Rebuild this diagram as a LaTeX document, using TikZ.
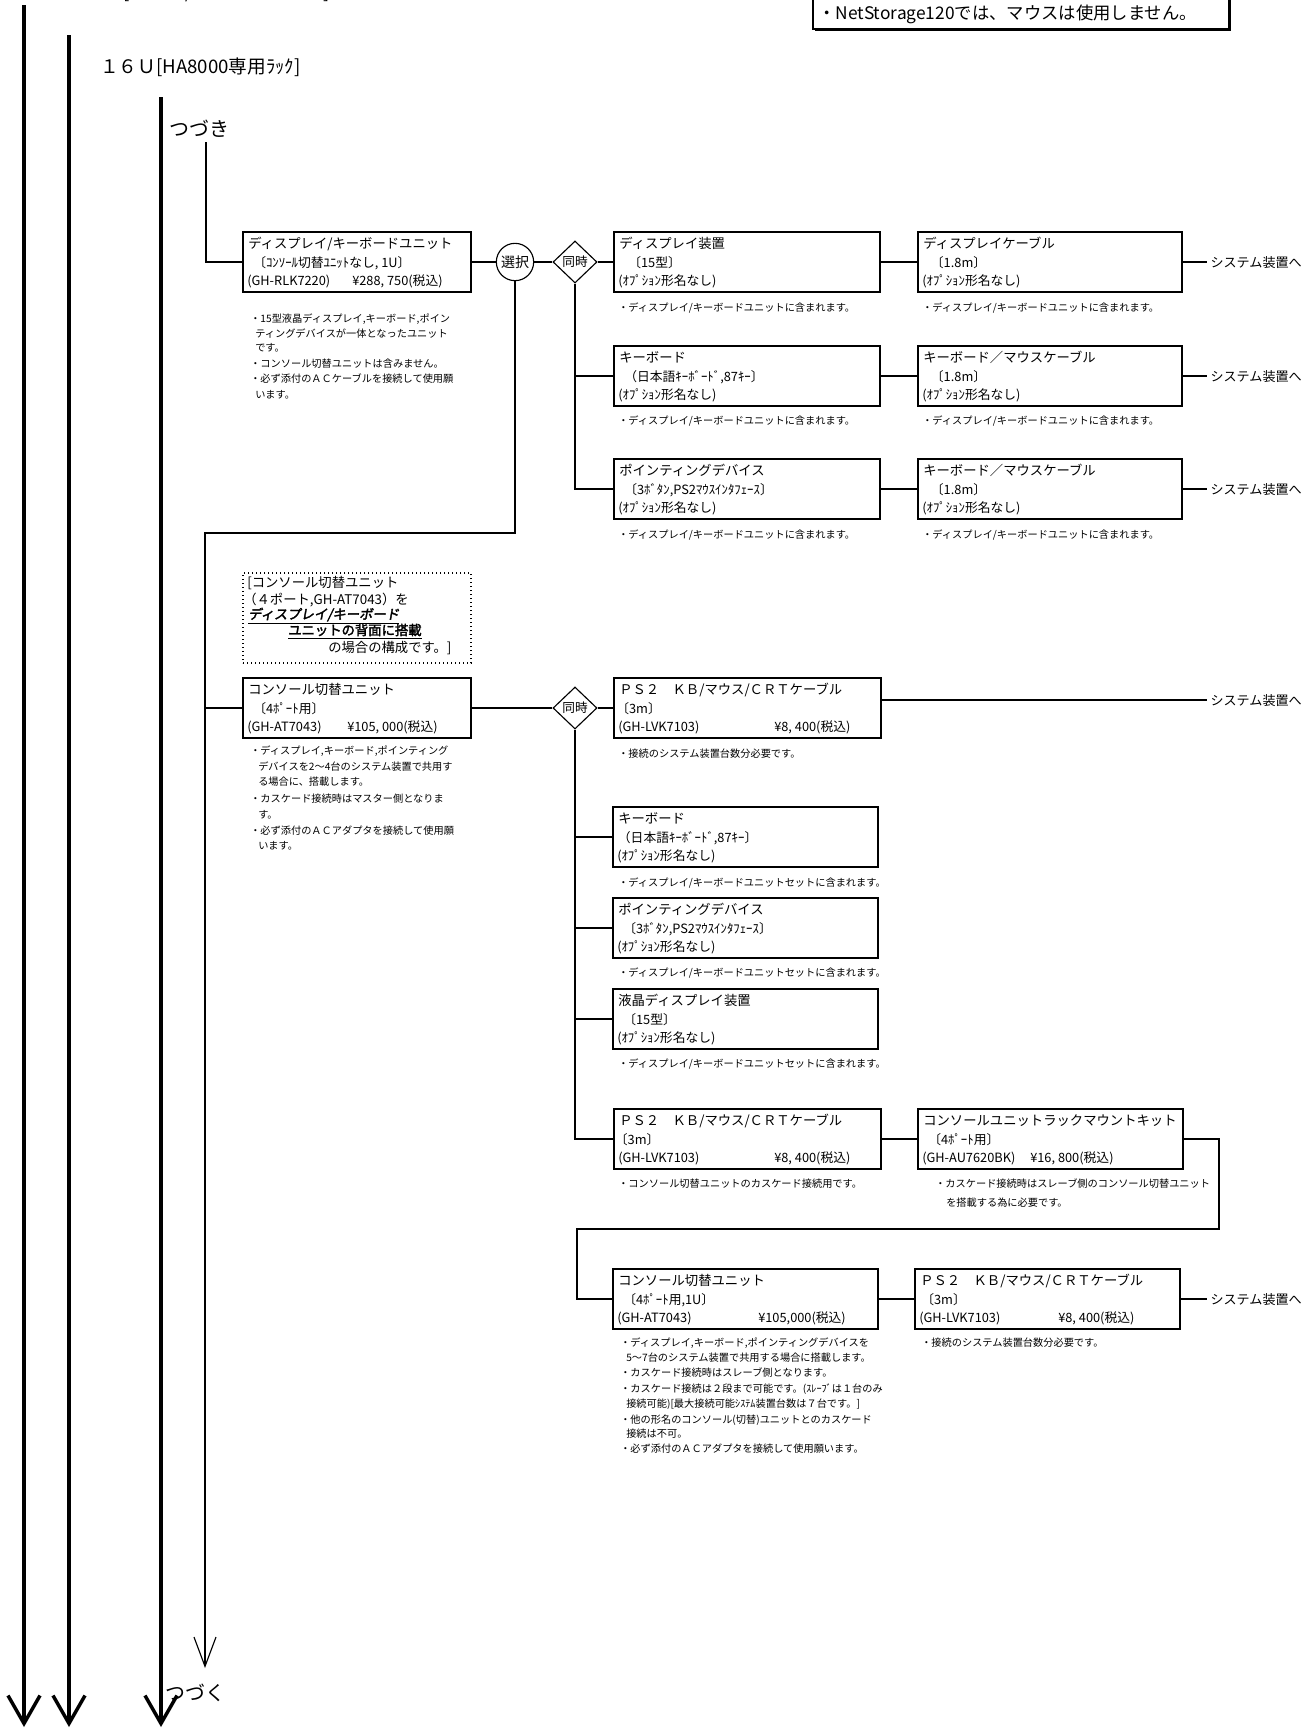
\documentclass[tikz,border=0pt]{standalone}
\usepackage{fontspec}
\setmainfont{Noto Sans CJK JP}
\newfontfamily\jpbold{Noto Sans CJK JP}[FakeBold=2.5]
\newfontfamily\jpboldit{Noto Sans CJK JP}[FakeBold=2.5,FakeSlant=0.18]
\usetikzlibrary{shapes.geometric,arrows.meta,fit,shadows}
\tikzset{
  T/.style={anchor=west,inner sep=0pt,text height=0.88em,text depth=0.12em},
  ttl/.style={T,font=\fontsize{10}{12}\selectfont},
  sub/.style={T,font=\fontsize{9.6}{11}\selectfont},
  note/.style={T,font=\fontsize{7.65}{9}\selectfont},
  sys/.style={T,inner xsep=2.5pt,font=\fontsize{9.8}{11}\selectfont},
  dtxt/.style={T,font=\fontsize{10}{12}\selectfont},
  bigtxt/.style={T,font=\fontsize{14}{16}\selectfont},
  kana/.style={T,font=\fontsize{15}{17}\selectfont},
  ubx/.style={draw,line width=1.5pt,inner sep=0pt,rectangle},
  conn/.style={line width=0.85pt},
  thick arrow/.style={line width=2.6pt,-{Straight Barb[length=21pt,width=24pt]}},
  thinarrow/.style={conn,-{Straight Barb[length=22pt,width=16.5pt]}},
  selc/.style={draw,circle,line width=0.85pt,minimum size=28pt,inner sep=0pt,font=\fontsize{10.5}{12}\selectfont},
  dia/.style={draw,diamond,aspect=1,line width=0.85pt,minimum width=33pt,minimum height=31.5pt,inner sep=0pt,font=\fontsize{9.5}{11}\selectfont},
  dotbox/.style={draw,dotted,line width=1pt,inner sep=0pt,rectangle},
  nsbox/.style={draw,fill=white,line width=0.8pt,inner sep=0pt,rectangle,drop shadow={shadow xshift=1.6pt,shadow yshift=-1.6pt,opacity=1,fill=black}},
}
% name, x, y(top), width, title, line2, line3, price offset, price
\newcommand\mkbox[9]{%
  \node[ubx,fit={(#2,#3) (#2+#4,#3+60)}] (#1) {};
  \node[ttl] (#1t) at (#2+5,#3+11) {#5};
  \node[sub] (#1s) at (#2+10,#3+30) {#6};
  \node[sub] (#1c) at (#2+4,#3+48) {#7};
  \node[sub] (#1p) at (#2+#8,#3+48) {#9};
}
\newcommand\noteln[4]{\node[note] (#1) at (#2,#3) {#4};}
\begin{document}
\begin{tikzpicture}[x=0.75pt,y=-0.75pt]
\useasboundingbox (0,0) rectangle (1311,1728);

% ---- top texts
\node[bigtxt] (toptxt) at (123,-7) {[ラック/タワー型の選択]};
\node[bigtxt] (rack) at (100,68) {１６Ｕ[HA8000専用ﾗｯｸ]};
\node[nsbox,fit={(813,-30) (1229,29)}] (ns) {};
\node[T,font=\fontsize{13}{15}\selectfont] (nst) at (818,14) {・NetStorage120では、マウスは使用しません。};

% ---- thick lines
\coordinate (L1a) at (24,5);   \coordinate (L1b) at (24,1727);
\coordinate (L2a) at (69,35);  \coordinate (L2b) at (69,1727);
\coordinate (L3a) at (161,97); \coordinate (L3b) at (161,1727);
\draw[thick arrow] (L1a) -- (L1b);
\draw[thick arrow] (L2a) -- (L2b);
\draw[thick arrow] (L3a) -- (L3b);

\node[kana] (tsuzuki) at (169,131) {つづき};
\node[kana] (tsuzuku) at (165,1695) {つづく};

% ---- display/keyboard unit
\mkbox{u1}{243}{232}{228}{ディスプレイ/キーボードユニット}{〔ｺﾝｿｰﾙ切替ﾕﾆｯﾄなし, 1U〕}{(GH-RLK7220)}{109}{¥288, 750(税込)}
\noteln{u1n1}{250}{317}{・15型液晶ディスプレイ,キーボード,ポイン}
\noteln{u1n2}{255}{332}{ティングデバイスが一体となったユニット}
\noteln{u1n3}{255}{346}{です。}
\noteln{u1n4}{250}{362}{・コンソール切替ユニットは含みません。}
\noteln{u1n5}{250}{377}{・必ず添付のＡＣケーブルを接続して使用願}
\noteln{u1n6}{255}{393}{います。}

\node[selc] (sel) at (515,262) {選択};
\node[dia] (d1) at (575,262) {同時};

\mkbox{a1}{614}{232}{266}{ディスプレイ装置}{\hspace*{3pt}〔15型〕}{(ｵﾌﾟｼｮﾝ形名なし)}{0}{}
\mkbox{b1}{918}{232}{264}{ディスプレイケーブル}{\hspace*{2pt}〔1.8m〕}{(ｵﾌﾟｼｮﾝ形名なし)}{0}{}
\mkbox{a2}{614}{346}{266}{キーボード}{（日本語ｷｰﾎﾞｰﾄﾞ,87ｷｰ〕}{(ｵﾌﾟｼｮﾝ形名なし)}{0}{}
\mkbox{b2}{918}{346}{264}{キーボード／マウスケーブル}{\hspace*{2pt}〔1.8m〕}{(ｵﾌﾟｼｮﾝ形名なし)}{0}{}
\mkbox{a3}{614}{459}{266}{ポインティングデバイス}{〔3ﾎﾞﾀﾝ,PS2ﾏｳｽｲﾝﾀﾌｪｰｽ〕}{(ｵﾌﾟｼｮﾝ形名なし)}{0}{}
\mkbox{b3}{918}{459}{264}{キーボード／マウスケーブル}{\hspace*{2pt}〔1.8m〕}{(ｵﾌﾟｼｮﾝ形名なし)}{0}{}
\noteln{a1n}{618}{306}{・ディスプレイ/キーボードユニットに含まれます。}
\noteln{b1n}{922}{306}{・ディスプレイ/キーボードユニットに含まれます。}
\noteln{a2n}{618}{419}{・ディスプレイ/キーボードユニットに含まれます。}
\noteln{b2n}{922}{419}{・ディスプレイ/キーボードユニットに含まれます。}
\noteln{a3n}{618}{533}{・ディスプレイ/キーボードユニットに含まれます。}
\noteln{b3n}{922}{533}{・ディスプレイ/キーボードユニットに含まれます。}

\node[sys] (s1) at (1207,262) {システム装置へ};
\node[sys] (s2) at (1207,376) {システム装置へ};
\node[sys] (s3) at (1207,489) {システム装置へ};

\coordinate (tz) at (206,142);
\draw[conn] (tz) |- (u1.west);
\draw[conn] (u1) -- (sel);
\draw[conn] (sel) -- (d1);
\draw[conn] (d1) -- (a1);
\draw[conn] (d1.south) |- (a3.west);
\draw[conn] (d1.south |- a2.west) -- (a2.west);
\draw[conn] (a1) -- (b1);
\draw[conn] (a2) -- (b2);
\draw[conn] (a3) -- (b3);
\draw[conn] (b1.east) -- (s1.west);
\draw[conn] (b2.east) -- (s2.west);
\draw[conn] (b3.east) -- (s3.west);

% ---- long thin line
\coordinate (k1) at (205,533);
\coordinate (k2) at (205,1668);
\draw[thinarrow] (sel.south) |- (k1) -- (k2);

% ---- dotted remark
\node[dotbox,fit={(243,573) (471,663)}] (dbx) {};
\node[dtxt] (dbx1) at (247,582) {[コンソール切替ユニット};
\node[dtxt] (dbx2) at (243,599) {（４ポート,GH-AT7043）を};
\node[dtxt] (dbx3) at (248,614) {\underline{\jpboldit ディスプレイ/キーボード}};
\node[dtxt] (dbx4) at (288,630) {\underline{\jpbold ユニットの背面に搭載}};
\node[dtxt] (dbx5) at (328,647) {の場合の構成です。]};

% ---- console switch unit
\mkbox{u2}{243}{678}{228}{コンソール切替ユニット}{〔4ﾎﾟｰﾄ用〕}{(GH-AT7043)}{104}{¥105, 000(税込)}
\noteln{u2n1}{250}{749}{・ディスプレイ,キーボード,ポインティング}
\noteln{u2n2}{258}{765}{デバイスを2～4台のシステム装置で共用す}
\noteln{u2n3}{258}{780}{る場合に、搭載します。}
\noteln{u2n4}{250}{797}{・カスケード接続時はマスター側となりま}
\noteln{u2n5}{258}{813}{す。}
\noteln{u2n6}{250}{829}{・必ず添付のＡＣアダプタを接続して使用願}
\noteln{u2n7}{258}{844}{います。}
\draw[conn] (k1 |- u2.west) -- (u2.west);

\node[dia] (d2) at (575,708) {同時};
\draw[conn] (u2) -- (d2);

\mkbox{c1}{614}{678}{267}{ＰＳ２　ＫＢ/マウス/ＣＲＴケーブル}{\hspace*{-6pt}〔3m〕}{(GH-LVK7103)}{160}{¥8, 400(税込)}
\noteln{c1n}{618}{752}{・接続のシステム装置台数分必要です。}
\node[sys] (s4) at (1207,700) {システム装置へ};
\draw[conn] (d2) -- (c1);
\draw[conn] (c1.east |- s4.west) -- (s4.west);

\mkbox{dk}{613}{807}{265}{キーボード}{\hspace*{-4pt}（日本語ｷｰﾎﾞｰﾄﾞ,87ｷｰ〕}{(ｵﾌﾟｼｮﾝ形名なし)}{0}{}
\mkbox{dp}{613}{898}{265}{ポインティングデバイス}{〔3ﾎﾞﾀﾝ,PS2ﾏｳｽｲﾝﾀﾌｪｰｽ〕}{(ｵﾌﾟｼｮﾝ形名なし)}{0}{}
\mkbox{dl}{613}{989}{265}{液晶ディスプレイ装置}{〔15型〕}{(ｵﾌﾟｼｮﾝ形名なし)}{0}{}
\noteln{dkn}{618}{881}{・ディスプレイ/キーボードユニットセットに含まれます。}
\noteln{dpn}{618}{971}{・ディスプレイ/キーボードユニットセットに含まれます。}
\noteln{dln}{618}{1062}{・ディスプレイ/キーボードユニットセットに含まれます。}

\mkbox{e1}{614}{1109}{267}{ＰＳ２　ＫＢ/マウス/ＣＲＴケーブル}{\hspace*{-7pt}〔3m〕}{(GH-LVK7103)}{160}{¥8, 400(税込)}
\mkbox{e2}{918}{1109}{265}{コンソールユニットラックマウントキット}{〔4ﾎﾟｰﾄ用〕}{(GH-AU7620BK)}{112}{¥16, 800(税込)}
\noteln{e1n}{618}{1182}{・コンソール切替ユニットのカスケード接続用です。}
\noteln{e2n1}{935}{1182}{・カスケード接続時はスレーブ側のコンソール切替ユニット}
\noteln{e2n2}{946}{1201}{を搭載する為に必要です。}

\draw[conn] (d2.south) |- (e1.west);
\draw[conn] (d2.south |- dk.west) -- (dk.west);
\draw[conn] (d2.south |- dp.west) -- (dp.west);
\draw[conn] (d2.south |- dl.west) -- (dl.west);
\draw[conn] (e1) -- (e2);

\mkbox{f1}{613}{1269}{265}{コンソール切替ユニット}{〔4ﾎﾟｰﾄ用,1U〕}{(GH-AT7043)}{145}{¥105,000(税込)}
\mkbox{f2}{915}{1269}{265}{ＰＳ２　ＫＢ/マウス/ＣＲＴケーブル}{\hspace*{-3pt}〔3m〕}{(GH-LVK7103)}{143}{¥8, 400(税込)}
\noteln{f1n1}{620}{1341}{・ディスプレイ,キーボード,ポインティングデバイスを}
\noteln{f1n2}{626}{1356}{5～7台のシステム装置で共用する場合に搭載します。}
\noteln{f1n3}{620}{1371}{・カスケード接続時はスレーブ側となります。}
\noteln{f1n4}{620}{1387}{・カスケード接続は２段まで可能です。(ｽﾚｰﾌﾞは１台のみ}
\noteln{f1n5}{626}{1402}{接続可能)[最大接続可能ｼｽﾃﾑ装置台数は７台です。]}
\noteln{f1n6}{620}{1418}{・他の形名のコンソール(切替)ユニットとのカスケード}
\noteln{f1n7}{626}{1432}{接続は不可。}
\noteln{f1n8}{620}{1447}{・必ず添付のＡＣアダプタを接続して使用願います。}
\noteln{f2n}{921}{1341}{・接続のシステム装置台数分必要です。}
\node[sys] (s5) at (1207,1299) {システム装置へ};

\coordinate (lpA) at (1219,1229);
\coordinate (lpB) at (577,1229);
\draw[conn] (e2.east) -| (lpA) -- (lpB) |- (f1.west);
\draw[conn] (f1) -- (f2);
\draw[conn] (f2.east) -- (s5.west);
\end{tikzpicture}
\end{document}
